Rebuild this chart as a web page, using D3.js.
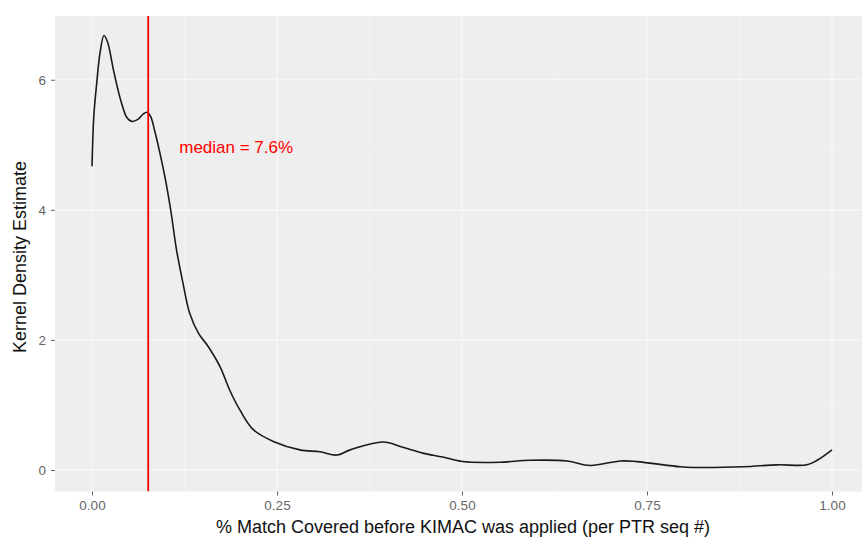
<!DOCTYPE html>
<html>
<head>
<meta charset="utf-8">
<script src="https://cdn.jsdelivr.net/npm/d3@7"></script>
<style>
  html, body { margin: 0; padding: 0; background: #ffffff; }
  svg { display: block; }
</style>
</head>
<body>
<svg id="chart" width="862" height="540"></svg>
<script>
// Kernel density estimate of % match covered (x) and density (y)
const densityX = [0.000, 0.0025, 0.0064, 0.0108, 0.0162, 0.021, 0.029, 0.035, 0.040, 0.047, 0.0536,
  0.062, 0.069, 0.074, 0.079, 0.085, 0.092, 0.100, 0.107, 0.114, 0.123, 0.132, 0.144, 0.157, 0.173,
  0.186, 0.200, 0.218, 0.245, 0.281, 0.308, 0.331, 0.349, 0.393, 0.420, 0.447, 0.474,
  0.501, 0.551, 0.592, 0.642, 0.673, 0.714, 0.736, 0.795, 0.812, 0.880, 0.926, 0.966,
  0.980, 1.000];
const densityY = [4.67, 5.45, 5.95, 6.41, 6.68, 6.58, 6.15, 5.85, 5.64, 5.42, 5.36,
  5.39, 5.47, 5.50, 5.44, 5.20, 4.86, 4.42, 3.95, 3.40, 2.87, 2.41, 2.10, 1.90, 1.59,
  1.23, 0.92, 0.62, 0.44, 0.31, 0.28, 0.23, 0.31, 0.43, 0.35, 0.26, 0.20,
  0.13, 0.12, 0.15, 0.14, 0.07, 0.14, 0.13, 0.05, 0.04, 0.05, 0.08, 0.08,
  0.15, 0.31];

const medianValue = 0.076;
const medianLabel = "median = 7.6%";

const xTicks = [0, 0.25, 0.5, 0.75, 1];
const xTickLabels = ["0.00", "0.25", "0.50", "0.75", "1.00"];
const xMinor = [0.125, 0.375, 0.625, 0.875];
const yTicks = [0, 2, 4, 6];
const yMinor = [1, 3, 5];

const xTitle = "% Match Covered before KIMAC was applied (per PTR seq #)";
const yTitle = "Kernel Density Estimate";

const svg = d3.select("#chart");
const panel = { left: 55, top: 16, right: 869, bottom: 491.5 };

const x = d3.scaleLinear().domain([-0.05, 1.05]).range([panel.left, panel.right]);
const y = d3.scaleLinear().domain([-0.33, 6.98]).range([panel.bottom, panel.top]);

svg.append("defs").append("clipPath").attr("id", "panelClip")
  .append("rect")
  .attr("x", panel.left).attr("y", panel.top)
  .attr("width", panel.right - panel.left).attr("height", panel.bottom - panel.top);

// panel background
svg.append("rect")
  .attr("x", panel.left).attr("y", panel.top)
  .attr("width", panel.right - panel.left).attr("height", panel.bottom - panel.top)
  .attr("fill", "#eeeeee");

const grid = svg.append("g").attr("clip-path", "url(#panelClip)");

// minor grid
grid.selectAll(".xminor").data(xMinor).join("line")
  .attr("x1", d => x(d)).attr("x2", d => x(d))
  .attr("y1", panel.top).attr("y2", panel.bottom)
  .attr("stroke", "#f6f6f6").attr("stroke-width", 0.6);
grid.selectAll(".yminor").data(yMinor).join("line")
  .attr("y1", d => y(d)).attr("y2", d => y(d))
  .attr("x1", panel.left).attr("x2", panel.right)
  .attr("stroke", "#f6f6f6").attr("stroke-width", 0.6);

// major grid
grid.selectAll(".xmajor").data(xTicks).join("line")
  .attr("x1", d => x(d)).attr("x2", d => x(d))
  .attr("y1", panel.top).attr("y2", panel.bottom)
  .attr("stroke", "#f9f9f9").attr("stroke-width", 1.1);
grid.selectAll(".ymajor").data(yTicks).join("line")
  .attr("y1", d => y(d)).attr("y2", d => y(d))
  .attr("x1", panel.left).attr("x2", panel.right)
  .attr("stroke", "#f9f9f9").attr("stroke-width", 1.1);

// density curve
const points = densityX.map((d, i) => [d, densityY[i]]);
const line = d3.line()
  .x(d => x(d[0])).y(d => y(d[1]))
  .curve(d3.curveCatmullRom.alpha(0.5));

grid.append("path")
  .datum(points)
  .attr("d", line)
  .attr("fill", "none")
  .attr("stroke", "#1a1a1a")
  .attr("stroke-width", 1.6);

// median line
grid.append("line")
  .attr("x1", x(medianValue)).attr("x2", x(medianValue))
  .attr("y1", panel.top).attr("y2", panel.bottom)
  .attr("stroke", "#ff0000").attr("stroke-width", 1.8);

svg.append("text")
  .attr("x", x(medianValue) + 31)
  .attr("y", y(4.88))
  .attr("font-family", "Liberation Sans, Arial, sans-serif")
  .attr("font-size", 17)
  .attr("fill", "#ff0000")
  .text(medianLabel);

// axes
const xAxis = d3.axisBottom(x).tickValues(xTicks)
  .tickFormat((d, i) => xTickLabels[i]).tickSize(4).tickPadding(5);
const gx = svg.append("g").attr("transform", `translate(0,${panel.bottom})`).call(xAxis);
gx.select(".domain").remove();
gx.selectAll(".tick line").attr("stroke", "#666").attr("stroke-width", 1);
gx.selectAll(".tick text")
  .attr("fill", "#666")
  .attr("font-family", "Liberation Sans, Arial, sans-serif")
  .attr("font-size", 13.5);

const yAxis = d3.axisLeft(y).tickValues(yTicks).tickSize(4).tickPadding(5);
const gy = svg.append("g").attr("transform", `translate(${panel.left},0)`).call(yAxis);
gy.select(".domain").remove();
gy.selectAll(".tick line").attr("stroke", "#666").attr("stroke-width", 1);
gy.selectAll(".tick text")
  .attr("fill", "#666")
  .attr("font-family", "Liberation Sans, Arial, sans-serif")
  .attr("font-size", 13.5);

// axis titles
svg.append("text")
  .attr("x", 463)
  .attr("y", 533)
  .attr("text-anchor", "middle")
  .attr("font-family", "Liberation Sans, Arial, sans-serif")
  .attr("font-size", 18)
  .attr("fill", "#111")
  .text(xTitle);

svg.append("text")
  .attr("transform", `translate(26,${257}) rotate(-90)`)
  .attr("text-anchor", "middle")
  .attr("font-family", "Liberation Sans, Arial, sans-serif")
  .attr("font-size", 18)
  .attr("fill", "#111")
  .text(yTitle);
</script>
</body>
</html>
